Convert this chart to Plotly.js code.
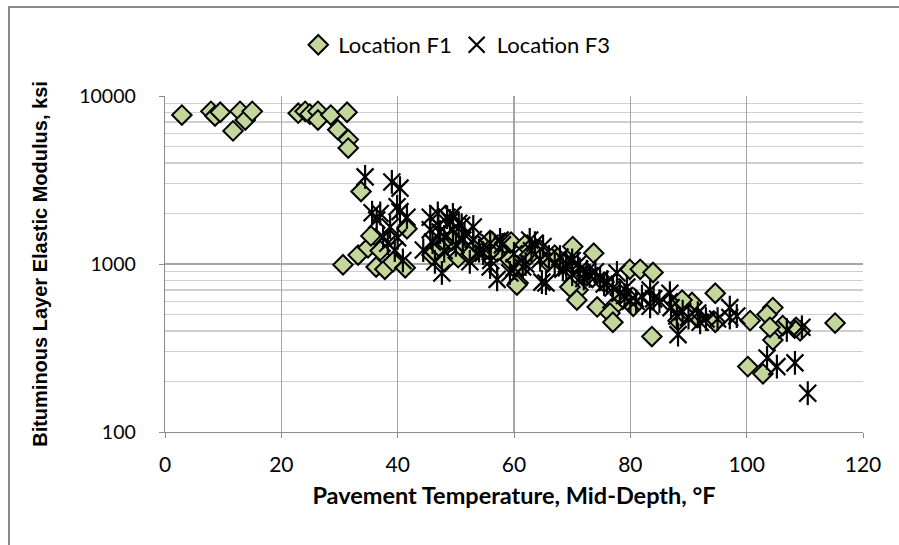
<!DOCTYPE html>
<html>
<head>
<meta charset="utf-8">
<script src="https://cdn.plot.ly/plotly-3.0.1.min.js"></script>
<style>
  html, body { margin: 0; padding: 0; background: #fff; }
  #chart { width: 899px; height: 545px; }
</style>
</head>
<body>
<div id="chart"></div>
<script>
// Location F1 (diamonds)
const f1Temp = [2.9, 7.9, 8.6, 9.5, 11.7, 12.9, 13.8, 15.0, 22.9, 24.1, 24.9, 26.3, 26.3, 28.5, 29.7, 31.3, 31.5, 31.5,
  33.7, 30.6, 33.2, 34.9, 35.4, 36.3, 37.8, 39.2, 41.3, 41.6, 37.0,
  45.9, 47.3, 48.1, 49.3, 50.4, 51.2, 52.4, 53.8, 55.0, 55.9, 57.1, 58.4, 59.3, 59.5, 61.0, 60.7, 61.9, 62.7, 64.5, 65.8, 67.0,
  70.1, 73.7, 71.0, 74.3, 77.0, 79.9, 78.2, 69.6, 76.5, 60.5, 70.8, 77.0, 80.5, 81.7, 83.9, 83.7, 88.0, 90.6, 88.9, 94.6, 94.6, 88.2, 68.5, 72.5, 75.5,
  100.6, 104.5, 103.5, 104.5, 109.2, 108.5, 115.2, 100.2, 102.8, 106.2, 104.0, 91.5];
const f1Modulus = [7700, 8100, 7600, 8000, 6200, 8100, 7200, 8100, 7900, 8100, 7800, 8100, 7200, 7700, 6300, 8000, 5500, 4900,
  2700, 990, 1130, 1250, 1470, 960, 930, 1030, 950, 1620, 1200,
  1130, 1250, 1030, 1380, 1090, 1240, 1130, 1290, 1210, 1380, 1180, 1330, 1060, 1350, 930, 770, 1300, 1130, 1210, 1030, 1130,
  1270, 1160, 700, 555, 550, 930, 660, 730, 510, 750, 610, 450, 560, 930, 890, 370, 580, 590, 610, 670, 450, 460, 1000, 850, 780,
  460, 550, 500, 353, 400, 420, 445, 245, 222, 430, 420, 480];

// Location F3 (stars)
const f3Temp = [34.4, 39.0, 40.4, 35.6, 37.0, 39.9, 40.4, 41.6, 37.5, 38.3, 39.5, 36.4, 40.9, 38.7, 40.0,
  45.6, 46.9, 48.5, 49.5, 45.6, 47.3, 49.5, 53.0, 51.2, 44.4, 46.4, 47.6, 52.4, 55.9, 55.9, 54.7, 57.1, 59.3, 61.5, 57.6, 63.6, 64.5, 65.5, 48.0, 50.5, 46.0, 51.5,
  62.7, 65.0, 64.8, 67.9, 68.4, 71.3, 74.8, 77.7, 78.2, 70.0, 72.5, 75.5, 69.0,
  79.4, 83.4, 83.4, 86.8, 88.2, 88.0, 91.6, 92.0, 97.1, 98.3, 97.1, 81.0,
  103.5, 105.2, 108.3, 110.5, 106.9, 109.5,
  58.0, 60.0, 62.0, 63.0, 66.0, 67.0, 69.0, 70.0, 71.0, 72.0, 73.0, 74.0, 76.0, 77.0, 79.0, 80.0, 82.0, 84.0, 85.0, 87.0, 89.0, 90.0, 93.0, 95.0,
  60.0, 56.0, 54.0, 53.0, 50.0, 48.0, 47.0, 49.0, 51.0];
const f3Modulus = [3300, 3080, 2830, 2020, 2000, 2190, 2050, 1900, 1450, 1330, 1210, 1830, 1050, 1660, 1430,
  1900, 2000, 1900, 1960, 1600, 1550, 1600, 1660, 1390, 1210, 1030, 885, 1030, 960, 1330, 1160, 810, 885, 960, 1390, 1330, 1060, 770, 1450, 1750, 1350, 1500,
  1390, 1270, 780, 1100, 930, 930, 810, 885, 670, 1050, 900, 760, 1000,
  730, 700, 560, 670, 380, 490, 510, 450, 550, 490, 480, 600,
  276, 245, 258, 170, 405, 420,
  1300, 1150, 1000, 1200, 1100, 1000, 950, 870, 1000, 820, 850, 900, 780, 720, 650, 600, 640, 620, 600, 550, 520, 480, 470, 470,
  950, 1050, 1200, 1400, 1300, 1200, 1700, 1800, 1700];

const yTickVals = [100, 1000, 10000];
const yTickText = ['100', '1000', '10000'];

const traces = [
  {
    x: f1Temp, y: f1Modulus, type: 'scatter', mode: 'markers', name: 'Location F1',
    marker: { symbol: 'diamond', size: 15, color: '#c3d69b', line: { color: '#000', width: 2 } }
  },
  {
    x: f3Temp, y: f3Modulus, type: 'scatter', mode: 'markers', name: 'Location F3',
    legendgroup: 'f3',
    marker: { symbol: 'x-thin-open', size: 17, color: '#000', line: { color: '#000', width: 2.2 } }
  },
  {
    x: f3Temp, y: f3Modulus, type: 'scatter', mode: 'markers', name: 'Location F3',
    legendgroup: 'f3', showlegend: false,
    marker: { symbol: 'line-ns-open', size: 17, color: '#000', line: { color: '#000', width: 2.2 } }
  }
];

const layout = {
  width: 899, height: 545,
  margin: { l: 165, r: 36, t: 96, b: 113 },
  paper_bgcolor: '#fff', plot_bgcolor: '#fff',
  font: { family: 'Lato, sans-serif', color: '#000', size: 21 },
  showlegend: true,
  legend: {
    orientation: 'h', x: 0.418, y: 1.152, xanchor: 'center', yanchor: 'middle',
    font: { family: 'Lato, sans-serif', size: 22, color: '#000' },
    itemwidth: 30, tracegroupgap: 0, bgcolor: 'rgba(0,0,0,0)'
  },
  xaxis: {
    range: [0, 120], dtick: 20, tick0: 0,
    showgrid: true, gridcolor: '#a6a6a6', gridwidth: 1.3,
    showline: true, linecolor: '#8c8c8c', linewidth: 1.3,
    ticks: 'outside', ticklen: 5, tickcolor: '#8c8c8c',
    ticklabelstandoff: 8,
    zeroline: false,
    tickfont: { family: 'Lato, sans-serif', size: 21 },
    title: { text: 'Pavement Temperature, Mid-Depth, °F', font: { family: 'Lato, sans-serif', size: 23.5, weight: 'bold' }, standoff: 13 }
  },
  yaxis: {
    type: 'log', range: [2, 4],
    tickmode: 'array', tickvals: yTickVals, ticktext: yTickText,
    showgrid: true, gridcolor: '#a6a6a6', gridwidth: 1.3,
    minor: { dtick: 'D1', showgrid: true, gridcolor: '#cfcfcf', gridwidth: 1.3, ticks: '' },
    showline: true, linecolor: '#8c8c8c', linewidth: 1.3,
    ticks: 'outside', ticklen: 5, tickcolor: '#8c8c8c',
    ticklabelstandoff: 19,
    zeroline: false,
    tickfont: { family: 'Lato, sans-serif', size: 19.5 },
    title: { text: 'Bituminous Layer Elastic Modulus, ksi', font: { family: 'Liberation Sans, Arial, sans-serif', size: 20, weight: 'bold' }, standoff: 26 }
  },
  shapes: [
    { type: 'rect', xref: 'paper', yref: 'paper', x0: -0.2235, x1: 1.2, y0: -0.6, y1: 1.2649,
      line: { color: '#8a8a8a', width: 2 }, fillcolor: 'rgba(0,0,0,0)', layer: 'below' }
  ]
};

Plotly.newPlot('chart', traces, layout, { displayModeBar: false, staticPlot: true });
</script>
</body>
</html>
